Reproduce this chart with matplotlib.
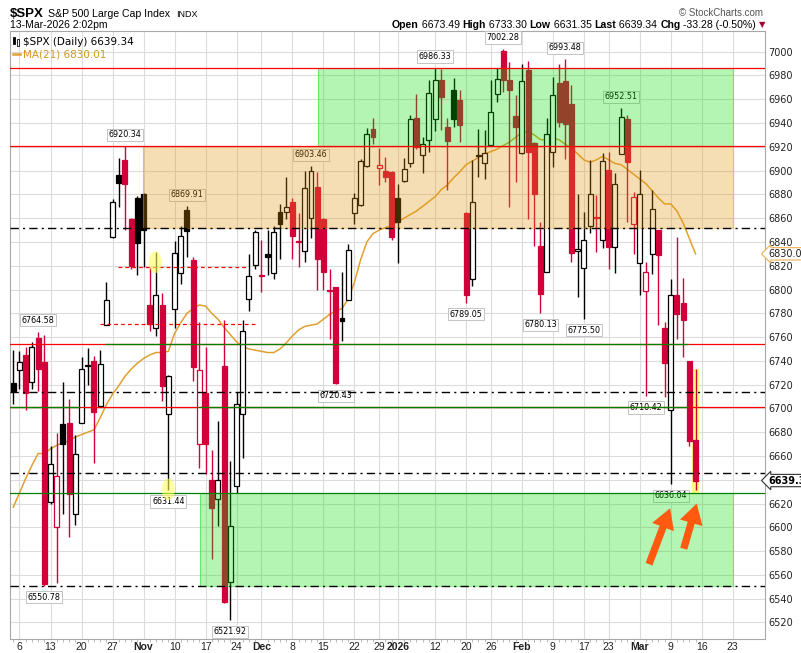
import matplotlib
matplotlib.use("Agg")
import matplotlib.pyplot as plt
from matplotlib.patches import Rectangle, Ellipse
import numpy as np

# ---------------- data ----------------
opens = [6721, 6732, 6745, 6722, 6759, 6739, 6621, 6600, 6687, 6688,
         6611, 6688, 6736.5, 6740, 6702, 6770, 6844, 6896, 6909, 6859,
         6877, 6880, 6787, 6768, 6787, 6695, 6784, 6814, 6867, 6825,
         6670, 6713, 6640, 6624, 6736, 6554, 6635, 6695, 6792, 6821,
         6812, 6830, 6814, 6865, 6865, 6874, 6840.5, 6832, 6860, 6886,
         6859, 6799.5, 6802, 6776, 6791, 6864, 6871, 6904, 6934.6, 6902,
         6899.6, 6899, 6877, 6891, 6906.6, 6944, 6913, 6926, 6943, 6976.4,
         6936.5, 6968, 6959, 6864.5, 6809, 6913.5, 6906, 6921.5, 6964.6, 7000.8,
         6976, 6946, 6915, 6984.8, 6923, 6836.4, 6814.7, 6916, 6974, 6975.5,
         6956, 6832.4, 6818, 6853, 6860.5, 6842, 6900.6, 6836, 6914, 6943,
         6855.5, 6822, 6799, 6830, 6850, 6768, 6699, 6795, 6789, 6740,
         6673.49]
highs = [6749, 6748, 6752, 6756, 6764.58, 6762, 6668, 6679, 6722, 6708,
         6678, 6743, 6751, 6744, 6749, 6806, 6876, 6911, 6920.34, 6860,
         6879, 6881, 6819, 6831.5, 6797, 6728.5, 6841, 6853, 6869.91, 6827,
         6773, 6752, 6665, 6689, 6774.5, 6656, 6714, 6774.5, 6830, 6850,
         6842, 6850, 6853, 6872, 6895, 6876.6, 6864, 6899.6, 6903.46, 6899,
         6860, 6817, 6802.5, 6815, 6838.6, 6881, 6909.5, 6936, 6944, 6919,
         6911.7, 6900, 6889, 6911, 6947, 6964, 6928.6, 6976, 6986.33, 6985.5,
         6944, 6978, 6967.5, 6865, 6909, 6935, 6934, 6976, 6986, 7002.28,
         6991.3, 6963.7, 6990, 6991.8, 6924.4, 6857, 6944, 6979, 6990, 6993.48,
         6972, 6880.6, 6865, 6909, 6879.4, 6914.6, 6916, 6898, 6952.51, 6947,
         6882, 6900.6, 6823, 6884, 6850, 6772.5, 6809, 6844, 6810, 6740,
         6733.30]
lows = [6704, 6716, 6699, 6716, 6715, 6550.78, 6620, 6553, 6611, 6592,
        6602, 6688, 6720, 6654, 6701, 6770, 6843, 6869, 6850, 6817,
        6812, 6819, 6765, 6761, 6706, 6631.44, 6768, 6805, 6827, 6723,
        6650, 6645, 6573, 6601, 6536, 6521.92, 6629, 6658, 6782, 6817.5,
        6798, 6812, 6808.5, 6826, 6859, 6826, 6819, 6823, 6843, 6800,
        6800, 6758.5, 6720.43, 6756.5, 6791, 6855, 6870, 6903, 6922, 6888,
        6890.6, 6842, 6822, 6890, 6903, 6918, 6897.7, 6916, 6933, 6934,
        6884, 6937, 6924.4, 6789.05, 6802.6, 6895, 6893, 6921, 6958, 6966.5,
        6869, 6890.6, 6914, 6859.7, 6837, 6780.13, 6814.7, 6903, 6936.5, 6910,
        6823, 6793.5, 6775.50, 6847.6, 6831.6, 6835.3, 6817.5, 6814, 6914, 6857,
        6830, 6795, 6710.42, 6813, 6770, 6710, 6636.04, 6758.5, 6743.5, 6668,
        6631.35]
closes = [6715, 6739, 6713, 6752, 6733, 6552, 6653, 6643, 6670, 6628,
          6662, 6733, 6735.5, 6697, 6737, 6791, 6874, 6889.2, 6888.5, 6820,
          6839, 6850, 6771, 6795, 6719, 6727, 6831, 6845, 6849.5, 6735,
          6732, 6670, 6616, 6640, 6537, 6601, 6704, 6765, 6811, 6848,
          6811, 6827.5, 6848, 6855.5, 6869, 6845, 6840, 6885, 6900, 6826,
          6815, 6799, 6721, 6773.5, 6833, 6877, 6908, 6931, 6928.5, 6905,
          6895, 6844, 6857, 6901, 6943, 6920, 6922, 6965, 6976, 6962,
          6925, 6943, 6938.4, 6795, 6874, 6912, 6914.6, 6949, 6977, 6976,
          6967.4, 6937, 6975, 6916, 6880.6, 6796.5, 6930.6, 6963.7, 6941, 6939.5,
          6831, 6834.4, 6842, 6880, 6860, 6908, 6836, 6889, 6945, 6907.5,
          6877.4, 6880, 6815, 6868, 6829, 6738, 6795, 6779.6, 6774, 6672.62,
          6639.34]
ma21 = [6617, 6629, 6641, 6652, 6662, 6662, 6666, 6669, 6671, 6673,
        6676, 6678, 6680, 6682, 6692, 6703, 6712, 6719, 6727, 6733,
        6738, 6742, 6745, 6747, 6747, 6748, 6763, 6772, 6780, 6784,
        6787, 6786, 6780, 6775, 6768, 6762, 6756, 6752, 6750, 6749,
        6748, 6747, 6747, 6750, 6755, 6761, 6766, 6769, 6770, 6771,
        6775, 6779, 6782, 6784, 6792, 6806, 6825, 6840, 6847, 6850,
        6852, 6854, 6857, 6860, 6863, 6866, 6870, 6874, 6878, 6884,
        6888, 6894, 6899, 6905, 6908, 6911, 6914, 6916, 6918, 6921,
        6924, 6928, 6932, 6933, 6930, 6926, 6926, 6927, 6926, 6922,
        6919, 6914, 6909, 6907, 6909, 6912, 6909, 6906, 6905, 6901,
        6897, 6893, 6889, 6883, 6877, 6872, 6872, 6866, 6856, 6843,
        6830.01]

tick_pos = [1, 6, 11, 16, 21, 26, 31, 36, 40, 45, 50, 55, 59, 62, 68, 73,
            77, 82, 87, 92, 96, 101, 106, 111, 116]
tick_labels = ['6', '13', '20', '27', 'Nov', '10', '17', '24', 'Dec', '8',
               '15', '22', '29', '2026', '12', '20', '26', 'Feb', '9', '17',
               '23', 'Mar', '9', '16', '23']
bold_ticks = ['Nov', 'Dec', '2026', 'Feb', 'Mar']
price_ticks = list(range(6520, 7001, 20))

high_marks = [4, 18, 28, 48, 68, 79, 89, 98]
low_marks = [5, 25, 35, 52, 73, 85, 92, 102, 106]

# shaded zones: start index, end index, low price, high price
zone_start = [49.1, 20.9, 30.1]
zone_end = [116.1, 116.1, 116.1]
zone_low = [6920.34, 6851.5, 6550.78]
zone_high = [6986.33, 6920.34, 6628.6]

# full-width level lines
level_prices = [6986.33, 6920.34, 6753.9, 6700.9, 6628.6,
                6851.5, 6713.5, 6645.4, 6551.0]
level_kinds = ['red', 'red', 'red', 'red', 'green',
               'dashdot', 'dashdot', 'dashdot', 'dashdot']
# partial green overlays: price, start, end
green_seg_price = [6753.9, 6700.9, 6700.9]
green_seg_start = [14.8, -0.6, 29.8]
green_seg_end = [108.8, 10.8, 108.8]
# red dashed segments
dash_price = [6818.9, 6771.0]
dash_start = [16.9, 14.0]
dash_end = [37.8, 39.0]

# ---------------- styling ----------------
RED = '#d2003a'
plt.rcParams['font.family'] = ['DejaVu Sans']

fig = plt.figure(figsize=(8.01, 6.53), dpi=100)
W, H = 801, 653
ax = fig.add_axes([10 / W, 1 - 638.5 / H, 755 / W, 607.5 / H])
n = len(closes)
idx = np.arange(n)

ax.set_xlim(-0.53, 121.2)
ax.set_ylim(6506.5, 7017.4)

# grid / ticks
ax.set_yticks(price_ticks)
ax.set_yticklabels(['' if abs(p - closes[-1]) < 5 else str(p) for p in price_ticks])
ax.set_xticks(tick_pos)
ax.grid(True, color='#dcdcdc', lw=0.8, zorder=0)
ax.set_axisbelow(True)
for s in ax.spines.values():
    s.set_color('#a8a8a8')
    s.set_linewidth(0.8)

ax.yaxis.tick_right()
ax.tick_params(axis='y', length=0, pad=2.5, labelsize=7, colors='#222222')
ax.set_xticklabels(tick_labels, fontsize=7.5, family=['Liberation Sans Narrow', 'Liberation Sans'])
for t in ax.get_xticklabels():
    if t.get_text() in bold_ticks:
        t.set_fontweight('bold')
ax.tick_params(axis='x', length=0, pad=2.5, colors='#222222')
ax.set_xticks(idx, minor=True)
ax.tick_params(axis='x', which='minor', length=2, color='#b0b0b0', direction='out')

# MA line
ax.plot(idx, ma21, color='#e0a030', lw=1.1, zorder=2)

# yellow highlight behind last candle
ax.add_patch(Rectangle((n - 1 - 0.6, lows[-1] - 3), 1.2, highs[-1] - lows[-1] + 3,
                       facecolor='#ffff66', edgecolor='none', alpha=0.85, zorder=2.5))

# candles
for i in range(n):
    col = '#000000' if (i == 0 or closes[i] >= closes[i - 1]) else RED
    hollow = closes[i] > opens[i]
    ax.vlines(i, lows[i], highs[i], color=col, lw=1.0, zorder=3)
    bottom = min(opens[i], closes[i])
    height = max(abs(closes[i] - opens[i]), 1.0)
    ax.bar(i, height, bottom=bottom, width=0.8,
           facecolor='white' if hollow else col, edgecolor=col,
           linewidth=0.9, zorder=3.5)

# high / low labels
lab_kw = dict(textcoords='offset pixels', ha='center', fontsize=5.8, zorder=4.2,
              bbox=dict(boxstyle='square,pad=0.2', fc='white', ec='#c4c4c4', lw=0.7))
for i in high_marks:
    ax.annotate(f'{highs[i]:.2f}', xy=(i, highs[i]), xytext=(0, 7), va='bottom', **lab_kw)
for i in low_marks:
    ax.annotate(f'{lows[i]:.2f}', xy=(i, lows[i]), xytext=(0, -7), va='top', **lab_kw)

# shaded zones (translucent, on top of candles)
zone_cols = ['#08de08', '#e49408', '#08de08']
for x0, x1, lo, hi, c in zip(zone_start, zone_end, zone_low, zone_high, zone_cols):
    ax.add_patch(Rectangle((x0, lo), x1 - x0, hi - lo, facecolor=c, alpha=0.3,
                           edgecolor='none', zorder=5))
    ax.add_patch(Rectangle((x0, lo), x1 - x0, hi - lo, facecolor='none',
                           edgecolor=c, alpha=0.45, lw=0.8, zorder=5))

# level lines
for p, k in zip(level_prices, level_kinds):
    if k == 'red':
        ax.axhline(p, color='#ff0000', lw=0.9, zorder=6)
    elif k == 'green':
        ax.axhline(p, color='#008000', lw=0.9, zorder=6)
    else:
        ax.axhline(p, color='black', lw=1.0, ls=(0, (6, 3, 1.5, 3)), zorder=6)
for p, a, b in zip(green_seg_price, green_seg_start, green_seg_end):
    ax.hlines(p, a, b, color='#008000', lw=0.9, zorder=6.1)
for p, a, b in zip(dash_price, dash_start, dash_end):
    ax.hlines(p, a, b, color='#ff0000', lw=0.9, ls=(0, (3, 2.5)), zorder=6.1)

# yellow markers
ax.add_patch(Ellipse((22.9, 6823), 2.1, 18.5, facecolor='#ffff60', alpha=0.6,
                     edgecolor='none', zorder=6.2))
ax.add_patch(Ellipse((25.0, 6632), 2.1, 18.0, facecolor='#ffff60', alpha=0.6,
                     edgecolor='none', zorder=6.2))

# orange arrows
arrow_kw = dict(arrowstyle='simple,head_width=0.7,head_length=0.6,tail_width=0.22',
                fc='#ff5a10', ec='none', mutation_scale=24, shrinkA=0, shrinkB=0)
ax.annotate('', xy=(105.9, 6616), xytext=(102.5, 6569), arrowprops=arrow_kw, zorder=7)
ax.annotate('', xy=(110.2, 6620), xytext=(108.1, 6582), arrowprops=arrow_kw, zorder=7)

# right-hand price tags
ax.annotate(f'{ma21[-1]:.2f}', xy=(1.0, ma21[-1]), xycoords=('axes fraction', 'data'),
            xytext=(3, 0), textcoords='offset pixels', ha='left', va='center',
            fontsize=7, color='#222222', annotation_clip=False, zorder=8,
            bbox=dict(boxstyle='larrow,pad=0.12', fc='white', ec='#f0b050', lw=0.8))
ax.annotate(f'{closes[-1]:.2f}', xy=(1.0, closes[-1]), xycoords=('axes fraction', 'data'),
            xytext=(3, 0), textcoords='offset pixels', ha='left', va='center',
            fontsize=7, fontweight='bold', color='black', annotation_clip=False, zorder=8,
            bbox=dict(boxstyle='larrow,pad=0.12', fc='white', ec='#333333', lw=0.8))

# legend inside plot
ax.add_patch(Rectangle((0.004, 0.978), 0.003, 0.012, transform=ax.transAxes,
                       facecolor='black', edgecolor='black', lw=0.6, zorder=9))
ax.add_patch(Rectangle((0.009, 0.975), 0.003, 0.012, transform=ax.transAxes,
                       facecolor='white', edgecolor='black', lw=0.6, zorder=9))
ax.text(0.0175, 0.982, f'$SPX (Daily) {closes[-1]:.2f}', transform=ax.transAxes,
        fontsize=7.5, va='center', ha='left', color='black', zorder=9)
ax.plot([0.004, 0.013], [0.962, 0.962], transform=ax.transAxes, color='#e0a030',
        lw=1.8, zorder=9)
ax.text(0.0175, 0.962, f'MA(21) {ma21[-1]:.2f}', transform=ax.transAxes,
        fontsize=7.5, va='center', ha='left', color='#d09a20', zorder=9)

# header
LS = ['Liberation Sans', 'DejaVu Sans']
fig.text(10 / W, 1 - 17 / H, '$SPX', fontsize=9.5, fontweight='bold', family=LS, va='baseline')
fig.text(48 / W, 1 - 17 / H, 'S&P 500 Large Cap Index', fontsize=7.6, family=LS, va='baseline')
fig.text(176 / W, 1 - 17 / H, 'INDX', fontsize=6.5, family=LS, va='baseline')
fig.text(10 / W, 1 - 28.5 / H, '13-Mar-2026 2:02pm', fontsize=7.5, family=LS, va='baseline')
fig.text(763 / W, 1 - 15.5 / H, '\u00a9 StockCharts.com', fontsize=7, family=LS,
         color='#555555', ha='right', va='baseline')

chg = closes[-1] - closes[-2]
pct = chg / closes[-2] * 100
pieces = [('Open', True), (f' {opens[-1]:.2f} ', False),
          ('High', True), (f' {highs[-1]:.2f} ', False),
          ('Low', True), (f' {lows[-1]:.2f} ', False),
          ('Last', True), (f' {closes[-1]:.2f} ', False),
          ('Chg', True), (f' {chg:.2f} ({pct:.2f}%) ', False)]
prev = fig.text(392 / W, 1 - 28.5 / H, pieces[0][0], fontsize=7.6, fontweight='bold',
                family=LS, va='baseline', ha='left')
for txt, b in pieces[1:]:
    prev = ax.annotate(txt, xy=(1, 0), xycoords=prev, ha='left', va='bottom',
                       fontsize=7.6, fontweight='bold' if b else 'normal',
                       family=LS, annotation_clip=False)
ax.annotate('\u25bc', xy=(1, 0.1), xycoords=prev, ha='left', va='bottom',
            fontsize=6, color='#a00030', family=['DejaVu Sans'], annotation_clip=False)

fig.savefig('out.png', dpi=100)
